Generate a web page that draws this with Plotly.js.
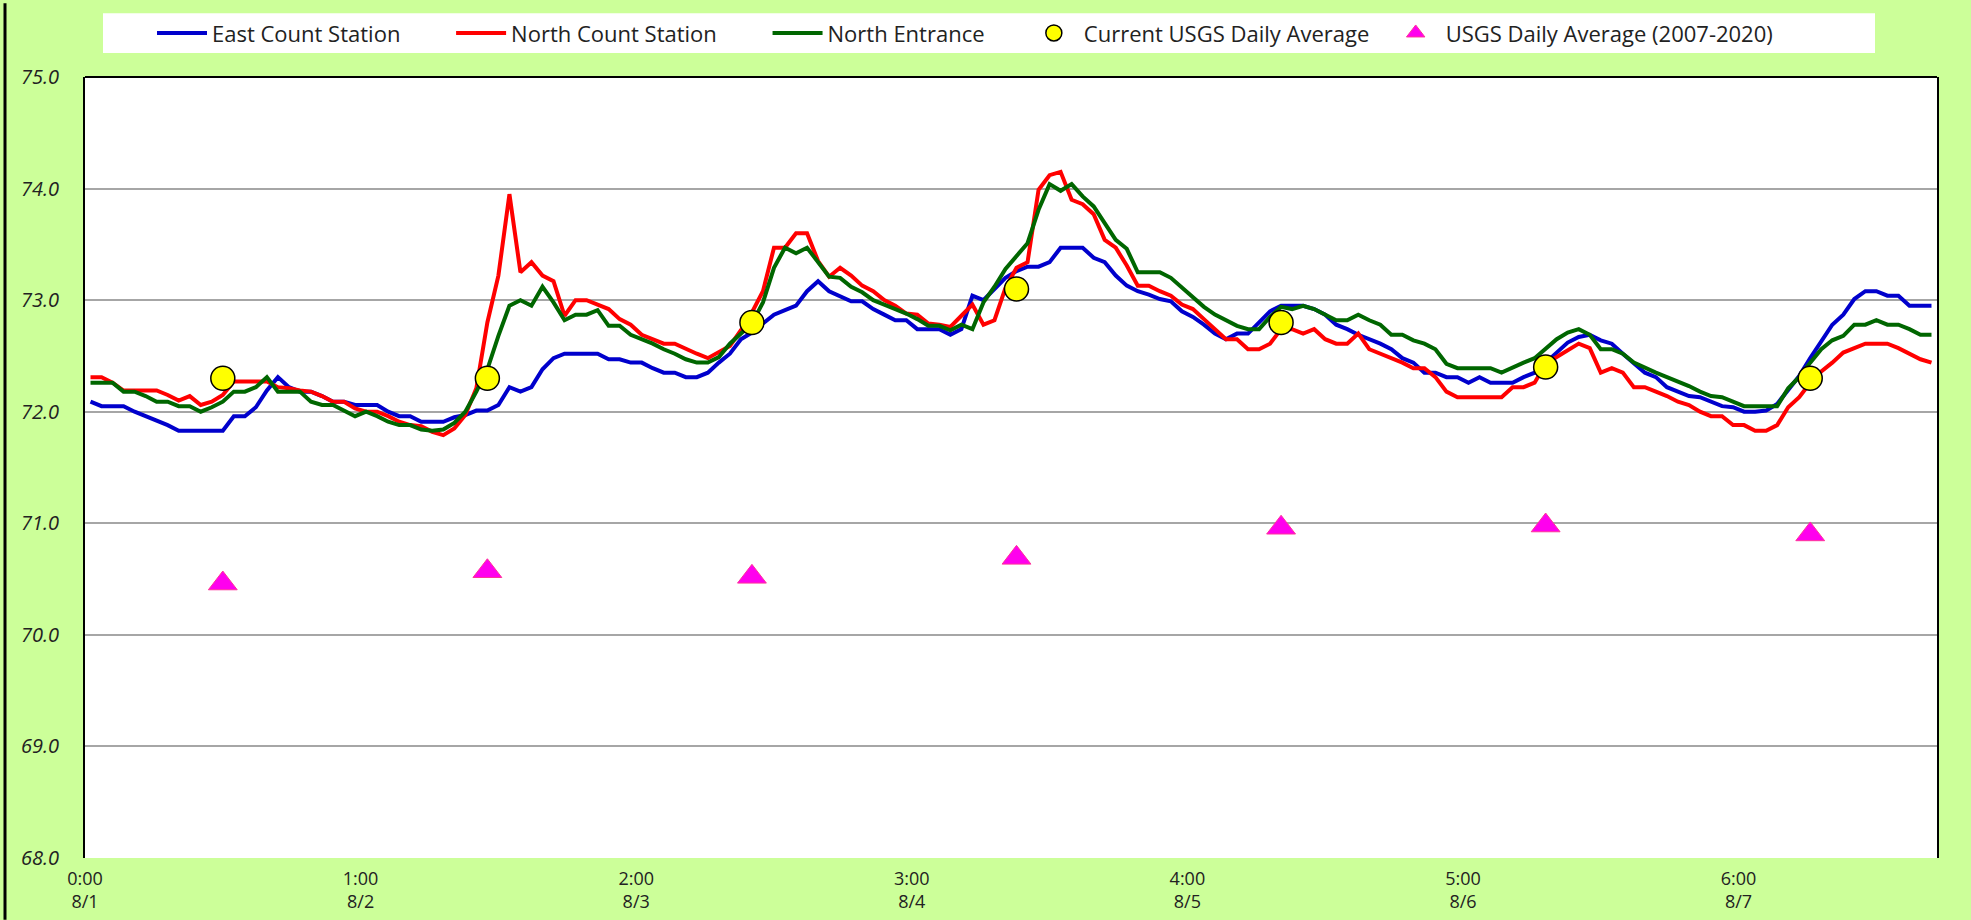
<!DOCTYPE html>
<html>
<head>
<meta charset="utf-8">
<script src="https://cdn.plot.ly/plotly-3.0.1.min.js"></script>
<style>
  html, body { margin: 0; padding: 0; background: #ccff99; }
  #chart { width: 1971px; height: 920px; }
</style>
</head>
<body>
<div id="chart"></div>
<script>
// Hourly readings, 8/1 00:00 through 8/7 23:00 (168 values each)
const eastCount = [
  72.09, 72.05, 72.05, 72.05, 72.00, 71.96, 71.92, 71.88, 71.83, 71.83, 71.83, 71.83, 71.83, 71.96, 71.96, 72.04, 72.19, 72.31, 72.22, 72.18, 72.18, 72.14, 72.09, 72.09, 72.06, 72.06, 72.06, 72.00, 71.96, 71.96, 71.91, 71.91, 71.91, 71.95,
  71.97, 72.01, 72.01, 72.06, 72.22, 72.18, 72.22, 72.38, 72.48, 72.52, 72.52, 72.52, 72.52, 72.47, 72.47, 72.44, 72.44, 72.39, 72.35, 72.35, 72.31, 72.31, 72.35, 72.44, 72.52, 72.65, 72.71, 72.79, 72.87, 72.91, 72.95, 73.08, 73.17, 73.08,
  73.03, 72.99, 72.99, 72.92, 72.87, 72.82, 72.82, 72.74, 72.74, 72.74, 72.69, 72.74, 73.04, 73.00, 73.10, 73.20, 73.26, 73.30, 73.30, 73.34, 73.47, 73.47, 73.47, 73.38, 73.34, 73.22, 73.13, 73.08, 73.05, 73.01, 72.99, 72.90, 72.85,
  72.78, 72.70, 72.65, 72.70, 72.70, 72.80, 72.90, 72.95, 72.95, 72.95, 72.92, 72.87, 72.78, 72.74, 72.69, 72.65, 72.61, 72.56, 72.48, 72.44, 72.35, 72.35, 72.31, 72.31, 72.26, 72.31, 72.26, 72.26, 72.26, 72.31, 72.35, 72.44, 72.53, 72.62,
  72.67, 72.69, 72.64, 72.61, 72.52, 72.44, 72.35, 72.31, 72.22, 72.18, 72.14, 72.13, 72.09, 72.05, 72.04, 72.00, 72.00, 72.01, 72.07, 72.19, 72.32, 72.48, 72.63, 72.78, 72.87, 73.01, 73.08, 73.08, 73.04, 73.04, 72.95, 72.95, 72.95
];
const northCount = [
  72.31, 72.31, 72.26, 72.19, 72.19, 72.19, 72.19, 72.15, 72.10, 72.14, 72.06, 72.09, 72.15, 72.27, 72.27, 72.27, 72.27, 72.22, 72.21, 72.19, 72.18, 72.14, 72.09, 72.09, 72.03, 72.00, 72.00, 71.96, 71.91, 71.88, 71.87, 71.82, 71.79, 71.85,
  71.97, 72.21, 72.80, 73.22, 73.95, 73.25, 73.34, 73.22, 73.17, 72.86, 73.00, 73.00, 72.96, 72.92, 72.83, 72.78, 72.69, 72.65, 72.61, 72.61, 72.56, 72.52, 72.48, 72.53, 72.59, 72.73, 72.89, 73.08, 73.47, 73.47, 73.60, 73.60, 73.35, 73.21,
  73.29, 73.22, 73.13, 73.08, 73.00, 72.95, 72.88, 72.87, 72.79, 72.78, 72.76, 72.86, 72.96, 72.78, 72.82, 73.11, 73.29, 73.34, 73.99, 74.12, 74.15, 73.90, 73.86, 73.77, 73.54, 73.47, 73.31, 73.13, 73.13, 73.08, 73.04, 72.96, 72.92,
  72.83, 72.74, 72.65, 72.65, 72.56, 72.56, 72.61, 72.74, 72.74, 72.70, 72.74, 72.65, 72.61, 72.61, 72.70, 72.56, 72.52, 72.48, 72.44, 72.39, 72.39, 72.31, 72.18, 72.13, 72.13, 72.13, 72.13, 72.13, 72.22, 72.22, 72.26, 72.43, 72.49, 72.55,
  72.61, 72.57, 72.35, 72.39, 72.35, 72.22, 72.22, 72.18, 72.14, 72.09, 72.06, 72.00, 71.96, 71.96, 71.88, 71.88, 71.83, 71.83, 71.88, 72.04, 72.13, 72.26, 72.36, 72.44, 72.53, 72.57, 72.61, 72.61, 72.61, 72.57, 72.52, 72.47, 72.44
];
const northEntrance = [
  72.26, 72.26, 72.26, 72.18, 72.18, 72.14, 72.09, 72.09, 72.05, 72.05, 72.00, 72.04, 72.09, 72.18, 72.18, 72.22, 72.31, 72.18, 72.18, 72.18, 72.09, 72.06, 72.06, 72.01, 71.96, 72.00, 71.96, 71.91, 71.88, 71.88, 71.84, 71.83, 71.84, 71.90,
  72.00, 72.18, 72.38, 72.68, 72.95, 73.00, 72.95, 73.12, 72.98, 72.82, 72.87, 72.87, 72.91, 72.77, 72.77, 72.69, 72.65, 72.61, 72.56, 72.52, 72.47, 72.44, 72.44, 72.49, 72.61, 72.70, 72.79, 72.98, 73.29, 73.47, 73.42, 73.47, 73.34, 73.21,
  73.20, 73.12, 73.07, 73.00, 72.96, 72.92, 72.88, 72.83, 72.77, 72.77, 72.73, 72.78, 72.74, 72.98, 73.12, 73.28, 73.40, 73.51, 73.81, 74.04, 73.98, 74.04, 73.93, 73.84, 73.69, 73.54, 73.46, 73.25, 73.25, 73.25, 73.20, 73.11, 73.02,
  72.94, 72.87, 72.82, 72.77, 72.74, 72.74, 72.85, 72.94, 72.92, 72.95, 72.92, 72.87, 72.82, 72.82, 72.87, 72.82, 72.78, 72.69, 72.69, 72.64, 72.61, 72.56, 72.43, 72.39, 72.39, 72.39, 72.39, 72.35, 72.40, 72.44, 72.48, 72.56, 72.65, 72.71,
  72.74, 72.69, 72.56, 72.56, 72.52, 72.44, 72.39, 72.35, 72.31, 72.27, 72.23, 72.18, 72.14, 72.13, 72.09, 72.05, 72.05, 72.05, 72.05, 72.21, 72.31, 72.44, 72.56, 72.64, 72.68, 72.78, 72.78, 72.82, 72.78, 72.78, 72.74, 72.69, 72.69
];
// Daily values placed at mid-day of each day
const dailyHour = [12.5, 36.5, 60.5, 84.5, 108.5, 132.5, 156.5];
const currentUSGS = [72.3, 72.3, 72.8, 73.1, 72.8, 72.4, 72.3];
const usgsAvg = [70.46, 70.57, 70.52, 70.69, 70.96, 70.98, 70.90];
// Axis tick labels
const tickHours = [0, 25, 50, 75, 100, 125, 150];
const tickTimes = ['0:00', '1:00', '2:00', '3:00', '4:00', '5:00', '6:00'];
const tickDates = ['8/1', '8/2', '8/3', '8/4', '8/5', '8/6', '8/7'];
// Series names
const seriesNames = ['East Count Station', 'North Count Station', 'North Entrance',
                     'Current USGS Daily Average', 'USGS Daily Average (2007-2020)'];

const hours = eastCount.map((_, i) => i + 0.5);
const FONT = 'Open Sans, Liberation Sans, Arial, sans-serif';
const pad = n => '\u00a0'.repeat(n);   // spacing after legend entries

const traces = [
  {x: hours, y: eastCount, name: seriesNames[0] + pad(8), type: 'scatter', mode: 'lines',
   line: {color: '#0000cc', width: 4}},
  {x: hours, y: northCount, name: seriesNames[1] + pad(8), type: 'scatter', mode: 'lines',
   line: {color: '#ff0000', width: 4}},
  {x: hours, y: northEntrance, name: seriesNames[2] + pad(6), type: 'scatter', mode: 'lines',
   line: {color: '#006600', width: 4}},
  {x: dailyHour, y: currentUSGS, name: seriesNames[3] + pad(2), type: 'scatter', mode: 'markers',
   marker: {symbol: 'circle', size: 24, color: '#ffff00', line: {color: '#000000', width: 1.5}}},
  {x: dailyHour, y: usgsAvg, name: seriesNames[4], type: 'scatter', mode: 'markers',
   marker: {symbol: 'triangle-up', size: 25, color: '#ff00ee', line: {color: '#ff3399', width: 1}}}
];

const W = 1971, H = 920, L = 85, R = 34, T = 74, B = 62;
const pw = W - L - R, ph = H - T - B;
const px = v => (v - L) / pw;
const py = v => (H - B - v) / ph;

const layout = {
  width: W, height: H,
  paper_bgcolor: '#ccff99', plot_bgcolor: '#ffffff',
  margin: {l: L, r: R, t: T, b: B, pad: 0},
  font: {family: FONT, color: '#222222'},
  showlegend: true,
  legend: {
    orientation: 'h', x: px(152), xanchor: 'left', y: py(30), yanchor: 'middle',
    bgcolor: 'rgba(0,0,0,0)', font: {family: FONT, size: 22, color: '#222222'},
    itemwidth: 50, traceorder: 'normal'
  },
  xaxis: {
    range: [0, 168], tickmode: 'array', tickvals: tickHours,
    ticktext: tickTimes.map((t, i) => t + '<br>' + tickDates[i]),
    showgrid: false, zeroline: false, showline: false, ticks: '',
    tickfont: {family: FONT, size: 18, color: '#222222'}, ticklabelstandoff: 8
  },
  yaxis: {
    range: [68, 75], dtick: 1, tickformat: '.1f', showgrid: true,
    gridcolor: '#a6a6a6', gridwidth: 2, zeroline: false,
    showline: true, mirror: true, linecolor: '#000000', linewidth: 2, ticks: '',
    tickfont: {family: FONT, size: 20, color: '#222222', style: 'italic'}, ticklabelstandoff: 20
  },
  shapes: [
    {type: 'rect', xref: 'paper', yref: 'paper', x0: px(103), x1: px(1875), y0: py(50), y1: py(10),
     fillcolor: '#ffffff', line: {width: 0}, layer: 'below'},
    {type: 'line', xref: 'paper', yref: 'paper', x0: 0, x1: 1, y0: 1, y1: 1,
     line: {color: '#000000', width: 2}},
    {type: 'line', xref: 'paper', yref: 'paper', x0: px(5), x1: px(5), y0: py(H), y1: py(0),
     line: {color: '#000000', width: 3}}
  ]
};

Plotly.newPlot('chart', traces, layout, {displayModeBar: false, staticPlot: true});
</script>
</body>
</html>
